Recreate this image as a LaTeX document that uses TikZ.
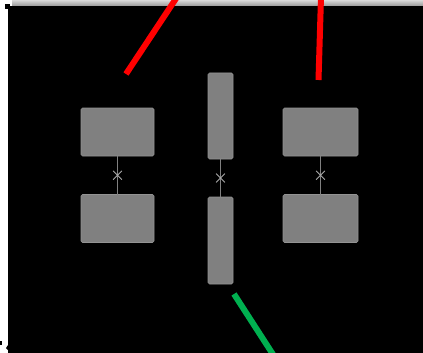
\documentclass[tikz,border=0pt]{standalone}
\usetikzlibrary{shapes.misc}
\definecolor{boxgray}{HTML}{808080}
\definecolor{xgray}{HTML}{A8A8A8}
\definecolor{redl}{HTML}{FF0000}
\definecolor{greenl}{HTML}{00B050}
\tikzset{
  blk/.style={draw=boxgray!85!white, line width=0.6pt, fill=boxgray, rounded corners=1.5pt, inner sep=0pt, outer sep=0pt},
  link/.style={draw=boxgray, line width=1.5pt},
  xmark/.style={cross out, draw=xgray, line width=0.8pt, minimum size=8pt, inner sep=0pt},
  redbar/.style={draw=redl, line width=6pt},
  greenbar/.style={draw=greenl, line width=6pt},
}
\begin{document}
\begin{tikzpicture}[x=1pt,y=-1pt]
\useasboundingbox (0,0) rectangle (423,353);
\fill[white] (0,0) rectangle (423,353);
% top shadow band
\shade[top color=black!15, bottom color=black!40] (12,0) rectangle (423,6);
% black background
\fill[black] (8,6) rectangle (423,353);
\fill[black] (5,4) rectangle (10,9);
\fill[black] (0,341) rectangle (2,345);
\fill[black] (8,345) -- (12,349) -- (10,352) -- (6,348) -- cycle;
% boxes
\node[blk, minimum width=73pt, minimum height=48pt] (lt) at (117.5,132) {};
\node[blk, minimum width=73pt, minimum height=48pt] (lb) at (117.5,218.5) {};
\node[blk, minimum width=25pt, minimum height=86pt] (ct) at (220.5,116) {};
\node[blk, minimum width=25pt, minimum height=87pt] (cb) at (220.5,240.5) {};
\node[blk, minimum width=75pt, minimum height=48pt] (rt) at (320.5,132) {};
\node[blk, minimum width=75pt, minimum height=48pt] (rb) at (320.5,218.5) {};
% links
\draw[link] (lt.south) -- (lb.north) node[midway, xmark] (lx) {};
\draw[link] (ct.south) -- (cb.north) node[midway, xmark] (cx) {};
\draw[link] (rt.south) -- (rb.north) node[midway, xmark] (rx) {};
% coloured bars
\coordinate (r1a) at (126,74);
\coordinate (r1b) at (177,-3);
\coordinate (r2a) at (318.5,80);
\coordinate (r2b) at (321,-3);
\coordinate (g1a) at (234,294);
\coordinate (g1b) at (274,356);
\draw[redbar] (r1a) -- (r1b);
\draw[redbar] (r2a) -- (r2b);
\draw[greenbar] (g1a) -- (g1b);
\end{tikzpicture}
\end{document}
